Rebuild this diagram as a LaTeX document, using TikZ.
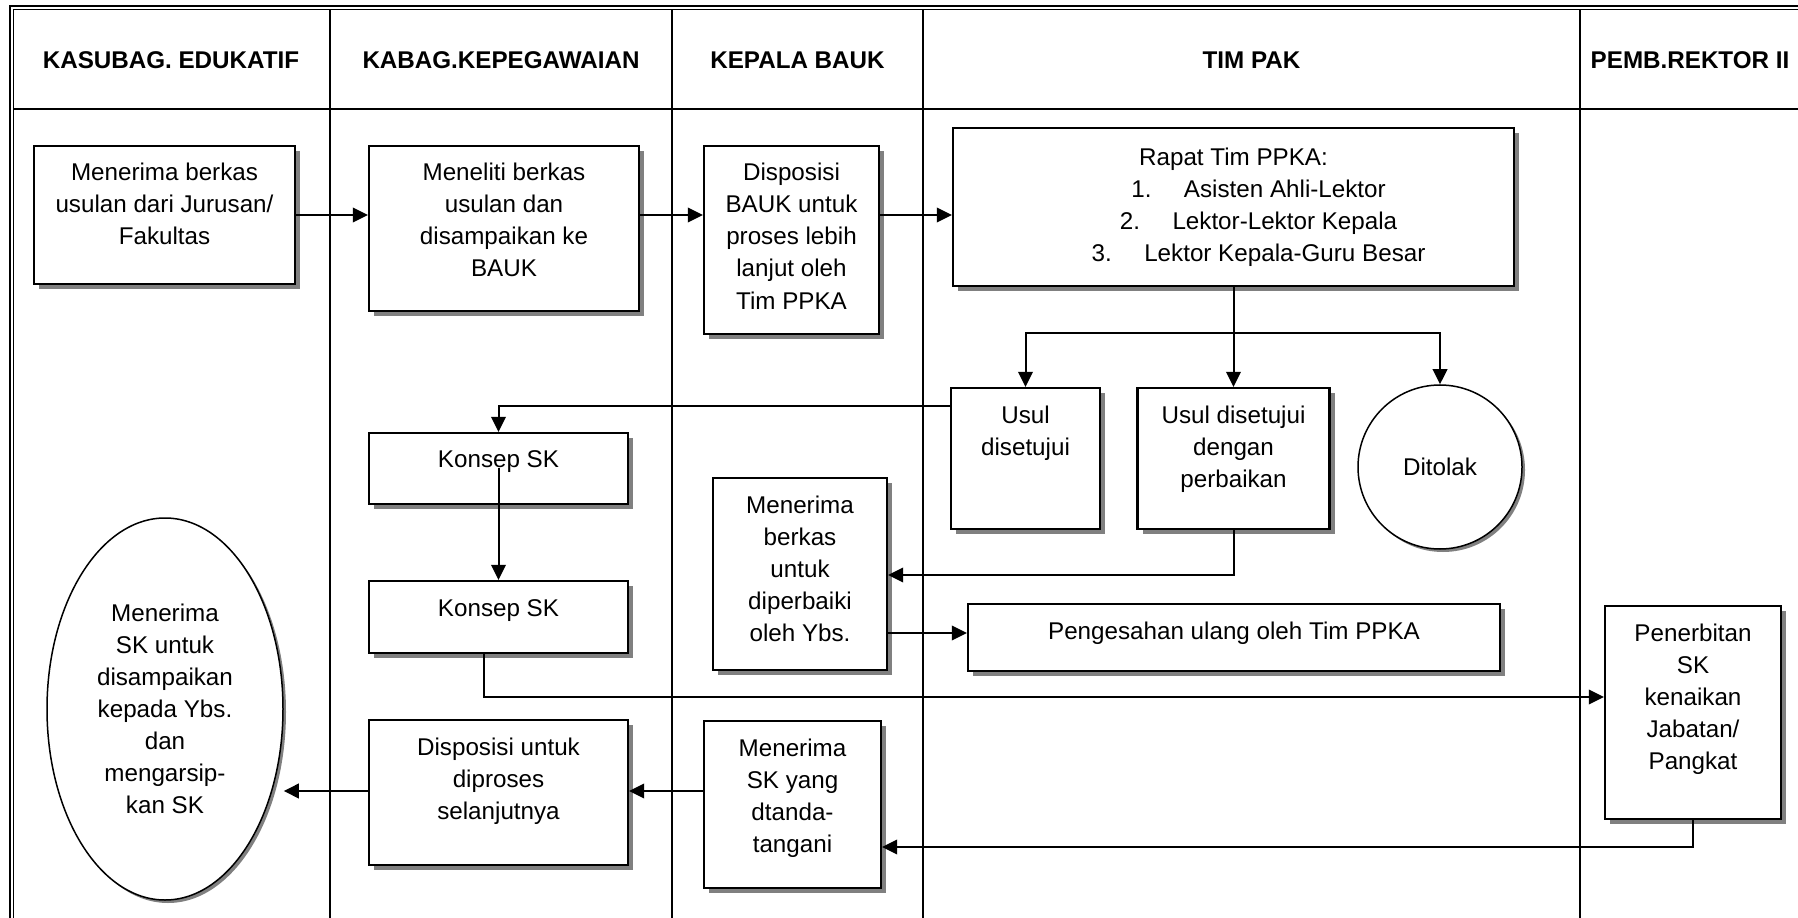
\documentclass[tikz,border=0pt]{standalone}
\usepackage{fontspec}
\setmainfont{Liberation Sans}
\usetikzlibrary{shapes.geometric,shadows,arrows.meta}
\newlength\px
\setlength\px{0.4pt}
\definecolor{shade}{RGB}{128,128,128}
\newcommand{\flowfont}{\fontsize{9.68pt}{12.8pt}\selectfont\lineskiplimit=-30pt\relax}
% text block of a process box: fixed size, lines centred, first baseline at #1 below the top
\newcommand{\bx}[4][14pt]{\parbox[c][#3\px][t]{#2\px}{\flowfont\centering\rule{0pt}{#1}#4}}

\begin{document}
\begin{tikzpicture}[x=0.4pt,y=-0.4pt,
  every node/.style={font=\flowfont},
  head/.style={font=\flowfont\bfseries},
  box/.style={draw, line width=0.9pt, fill=white, inner sep=0pt,
    drop shadow={shadow xshift=2pt, shadow yshift=-2pt, fill=shade, opacity=1}},
  oval/.style={draw, line width=0.6pt, fill=white, inner sep=0pt, align=center,
    drop shadow={shadow xshift=1.2pt, shadow yshift=-1.2pt, fill=shade, opacity=1}},
  rule/.style={line width=0.8pt},
  link/.style={line width=0.8pt},
  arr/.style={line width=0.8pt, -{Triangle[length=6pt,width=5.8pt]}}]

\useasboundingbox (0,0) rectangle (1798,918);
\clip (0,0) rectangle (1798,918);

% swimlane frame
\draw[line width=0.8pt] (10,918) -- (10,6) -- (1798,6);
\draw[line width=0.4pt] (13.5,918) -- (13.5,9.5) -- (1798,9.5);
\draw[rule] (13.5,109) -- (1798,109);
\foreach \x in {330,672,923,1580} \draw[rule] (\x,9.5) -- (\x,918);

% lane titles
\node[head] (h1) at (171,60) {KASUBAG. EDUKATIF};
\node[head] (h2) at (501,60) {KABAG.KEPEGAWAIAN};
\node[head] (h3) at (797.5,60) {KEPALA BAUK};
\node[head] (h4) at (1251.5,60) {TIM PAK};
\node[head] (h5) at (1690,60) {PEMB.REKTOR II};

% process steps
\node[box] (A) at (164.5,215) {\bx{261}{138}{Menerima berkas\\usulan dari Jurusan/\\Fakultas}};
\node[box] (B) at (504,228.5) {\bx{270}{165}{Meneliti berkas\\usulan dan\\disampaikan ke\\BAUK}};
\node[box] (C) at (791.5,240) {\bx{175}{188}{Disposisi\\BAUK untuk\\proses lebih\\lanjut oleh\\Tim PPKA}};
\node[box] (D) at (1233.5,207) {\bx[15pt]{561}{158}{Rapat Tim PPKA:\\
  \hspace*{20pt}1.\hspace{13pt}Asisten Ahli-Lektor\\
  \hspace*{20pt}2.\hspace{13pt}Lektor-Lektor Kepala\\
  \hspace*{20pt}3.\hspace{13pt}Lektor Kepala-Guru Besar}};
\node[box] (E) at (1025.5,458.5) {\bx{149}{141}{Usul\\disetujui}};
\node[box] (F) at (1233.5,458.5) {\bx{192}{141}{Usul disetujui\\dengan\\perbaikan}};
\node[oval, circle, minimum size=164\px] (T) at (1440,467) {Ditolak};
\node[box] (K1) at (498.5,468.5) {\bx{259}{71}{Konsep SK}};
\node[box] (K2) at (498.5,617) {\bx{259}{72}{Konsep SK}};
\node[box] (G) at (800,574) {\bx{174}{192}{Menerima\\berkas\\untuk\\diperbaiki\\oleh Ybs.}};
\node[box] (H) at (1234,637.5) {\bx{532}{67}{Pengesahan ulang oleh Tim PPKA}};
\node[box] (I) at (1693,712.5) {\bx{176}{213}{Penerbitan\\SK\\kenaikan\\Jabatan/\\Pangkat}};
\node[box] (J) at (792.5,804.5) {\bx{177}{167}{Menerima\\SK yang\\dtanda-\\tangani}};
\node[box] (K) at (498.5,792.5) {\bx{259}{145}{Disposisi untuk\\diproses\\selanjutnya}};
\node[oval, ellipse, minimum width=236\px, minimum height=382\px] (S) at (165,709)
  {Menerima\\SK untuk\\disampaikan\\kepada Ybs.\\dan\\mengarsip-\\kan SK};

% connector levels
\coordinate (ya) at (0,215);
\coordinate (fk) at (1233.5,333);
\coordinate (ye) at (0,406);
\coordinate (k2) at (484,697);
\coordinate (yg) at (0,575);
\coordinate (yh) at (0,633);
\coordinate (yj) at (0,847);
\coordinate (yk) at (0,791);

% flow
\draw[arr] (A.east |- ya) -- (B.west |- ya);
\draw[arr] (B.east |- ya) -- (C.west |- ya);
\draw[arr] (C.east |- ya) -- (D.west |- ya);
\draw[link] (D.south) -- (fk);
\draw[arr] (fk) -- (F.north);
\draw[arr] (fk) -| (E.north);
\draw[arr] (fk) -| (T.north);
\draw[arr] (E.west |- ye) -| (K1.north);
\draw[arr] (K1.center) -- (K2.north);
\draw[arr] (K2.south -| k2) |- (I.west |- k2);
\draw[arr] (F.south) |- (G.east |- yg);
\draw[arr] (G.east |- yh) -- (H.west |- yh);
\draw[arr] (I.south) |- (J.east |- yj);
\draw[arr] (J.west |- yk) -- (K.east |- yk);
\draw[arr] (K.west |- yk) -- (S.east |- yk);
\end{tikzpicture}
\end{document}
